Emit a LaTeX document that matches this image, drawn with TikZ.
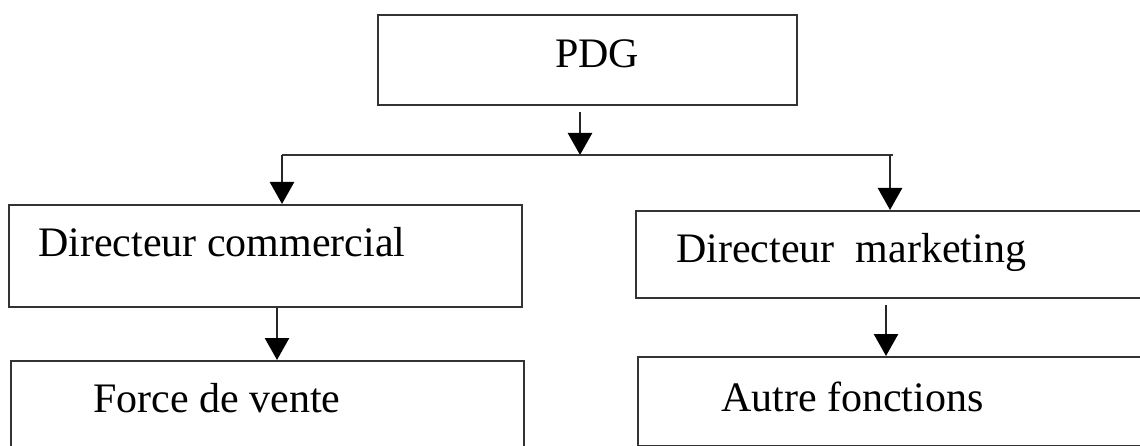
\documentclass[tikz,border=0pt]{standalone}
\usepackage{fontspec}
\setmainfont{Liberation Serif}
\usetikzlibrary{arrows.meta}
\begin{document}
\begin{tikzpicture}[x=1pt,y=-1pt,
  box/.style={draw=black!80, line width=2.2pt, rectangle, inner sep=0pt, anchor=north west},
  lbl/.style={anchor=base west, inner sep=0pt, font=\fontsize{42}{50}\selectfont, text=black},
  wire/.style={draw=black!80, line width=2.2pt},
  arr/.style={draw=black!85, line width=2.6pt, -{Triangle[width=24pt,length=22pt,fill=black,color=black]}}]
\useasboundingbox (0,0) rectangle (1140,446);
\clip (0,0) rectangle (1140,446);
% boxes
\node[box, minimum width=419pt, minimum height=90pt] (pdg) at (377,14) {};
\node[box, minimum width=513pt, minimum height=102pt] (dc) at (8,204) {};
\node[box, minimum width=513pt, minimum height=110pt] (fv) at (10,360) {};
\node[box, minimum width=540pt, minimum height=87pt] (dm) at (635,210) {};
\node[box, minimum width=540pt, minimum height=89pt] (af) at (637,356) {};
% labels
\node[lbl] (tpdg) at (555,68) {PDG};
\node[lbl] (tdc) at (38,257) {Directeur commercial};
\node[lbl] (tfv) at (93,412) {Force de vente};
\node[lbl] (tdm) at (676,263) {Directeur\ \ marketing};
\node[lbl] (taf) at (721,411) {Autre fonctions};
% connector coordinates
\coordinate (busL) at (282,155);
\coordinate (busM) at (580,155);
\coordinate (busR) at (890,155);
\coordinate (busE) at (893,155);
\coordinate (xa) at (277,0);
\coordinate (xb) at (886,0);
% connectors
\draw[arr] ([yshift=-6pt]pdg.south -| busM) -- (busM);
\draw[wire] (busL) -- (busE);
\draw[arr] (busL) -- (busL |- dc.north);
\draw[arr] (busR) -- (busR |- dm.north);
\draw[arr] (dc.south -| xa) -- (fv.north -| xa);
\draw[arr] ([yshift=-6pt]dm.south -| xb) -- (af.north -| xb);
\end{tikzpicture}
\end{document}
